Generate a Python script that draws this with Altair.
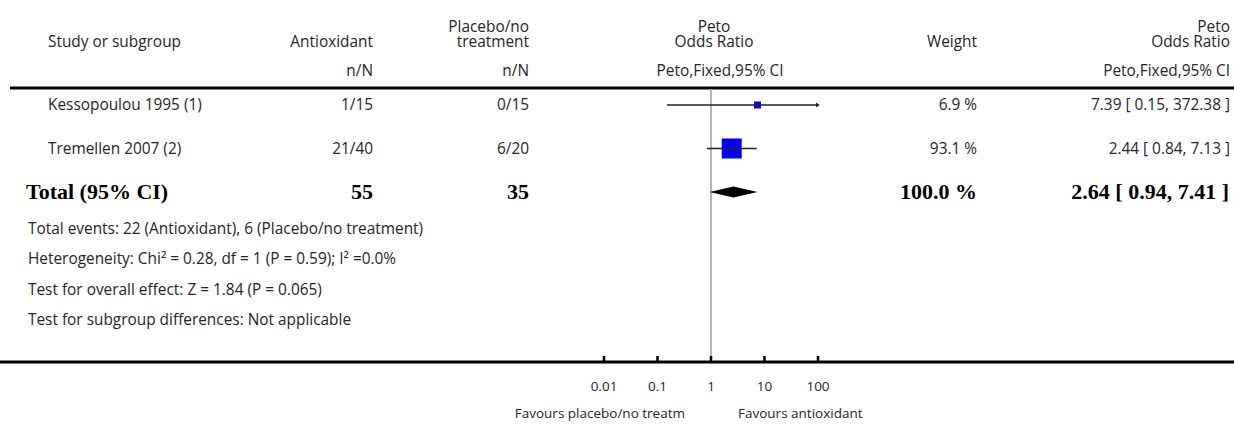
import altair as alt
import pandas as pd

# ---- study data -------------------------------------------------------------
studies = ["Kessopoulou 1995 (1)", "Tremellen 2007 (2)"]
antioxidant_nN = ["1/15", "21/40"]
placebo_nN = ["0/15", "6/20"]
weight_pct = [6.9, 93.1]
peto_or = [7.39, 2.44]
ci_low = [0.15, 0.84]
ci_high = [372.38, 7.13]

total_antioxidant = 55
total_placebo = 35
total_weight = 100.0
total_or = 2.64
total_low = 0.94
total_high = 7.41

axis_ticks = [0.01, 0.1, 1, 10, 100]
axis_labels = ["0.01", "0.1", "1", "10", "100"]

footnotes = [
    "Total events: 22 (Antioxidant), 6 (Placebo/no treatment)",
    "Heterogeneity: Chi\u00b2 = 0.28, df = 1 (P = 0.59); I\u00b2 =0.0%",
    "Test for overall effect: Z = 1.84 (P = 0.065)",
    "Test for subgroup differences: Not applicable",
]

# ---- derived tables ---------------------------------------------------------
X_MAX = 100
rows = pd.DataFrame({
    "row": list(range(len(studies))),
    "study": studies,
    "anti": antioxidant_nN,
    "plac": placebo_nN,
    "weight": weight_pct,
    "or": peto_or,
    "lo": ci_low,
    "hi": ci_high,
})
rows["hi_draw"] = rows["hi"].clip(upper=X_MAX)
rows["weight_txt"] = rows["weight"].map(lambda w: f"{w} %")
rows["ci_txt"] = [f"{o:.2f} [ {l:.2f}, {h:.2f} ]" for o, l, h in zip(peto_or, ci_low, ci_high)]

total_row = len(studies)
total = pd.DataFrame({
    "row": [total_row],
    "label": ["Total (95% CI)"],
    "anti": [str(total_antioxidant)],
    "plac": [str(total_placebo)],
    "weight_txt": [f"{total_weight:.1f} %"],
    "ci_txt": [f"{total_or:.2f} [ {total_low:.2f}, {total_high:.2f} ]"],
})

half_h = 0.125  # diamond half-height in row units
diamond = pd.DataFrame({
    "x": [total_low, total_or, total_high],
    "y": [total_row, total_row - half_h, total_row],
    "y2": [total_row, total_row + half_h, total_row],
})

ticks = pd.DataFrame({"v": axis_ticks, "lab": axis_labels})

# ---- scales -----------------------------------------------------------------
XS = alt.Scale(type="log", domain=[0.01, 100], range=[604, 818])
YS = alt.Scale(domain=[0, total_row], range=[105, 192], zero=False, nice=False)

SANS = "Open Sans"
SERIF = "Liberation Serif"
INK = "#262626"
FS = 15.4


def xq(field):
    return alt.X(f"{field}:Q", scale=XS, axis=None)


def yq(field="row"):
    return alt.Y(f"{field}:Q", scale=YS, axis=None)


def label(text, x, y, align="left", size=FS, font=SANS, weight="normal"):
    return alt.Chart(pd.DataFrame({"t": [text]})).mark_text(
        align=align, baseline="middle", font=font, fontSize=size,
        fontWeight=weight, color=INK,
    ).encode(x=alt.value(x), y=alt.value(y), text="t:N")


def hline(y, x0, x1, width):
    return alt.Chart(pd.DataFrame({"a": [0]})).mark_rule(
        color="black", strokeWidth=width
    ).encode(x=alt.value(x0), x2=alt.value(x1), y=alt.value(y))


# ---- header -----------------------------------------------------------------
header = [
    label("Study or subgroup", 48, 42),
    label("Antioxidant", 373, 42, "right"),
    label("Placebo/no", 529, 27, "right"),
    label("treatment", 529, 42, "right"),
    label("n/N", 373, 71, "right"),
    label("n/N", 529, 71, "right"),
    label("Peto", 714, 27, "center"),
    label("Odds Ratio", 714, 42, "center"),
    label("Peto,Fixed,95% CI", 720, 71, "center"),
    label("Weight", 977, 42, "right"),
    label("Peto", 1230, 27, "right"),
    label("Odds Ratio", 1230, 42, "right"),
    label("Peto,Fixed,95% CI", 1230, 71, "right"),
]

rules = [hline(88, 10, 1234, 3), hline(362, 0, 1234, 3)]

# ---- study rows -------------------------------------------------------------
base = alt.Chart(rows)
txt = dict(baseline="middle", font=SANS, fontSize=FS, color=INK)
study_text = [
    base.mark_text(align="left", **txt).encode(x=alt.value(48), y=yq(), text="study:N"),
    base.mark_text(align="right", **txt).encode(x=alt.value(373), y=yq(), text="anti:N"),
    base.mark_text(align="right", **txt).encode(x=alt.value(529), y=yq(), text="plac:N"),
    base.mark_text(align="right", **txt).encode(x=alt.value(977), y=yq(), text="weight_txt:N"),
    base.mark_text(align="right", **txt).encode(x=alt.value(1230), y=yq(), text="ci_txt:N"),
]

tb = alt.Chart(total)
btxt = dict(baseline="middle", font=SERIF, fontSize=22, fontWeight="bold", color="black")
total_text = [
    tb.mark_text(align="left", **btxt).encode(x=alt.value(26), y=yq(), text="label:N"),
    tb.mark_text(align="right", **btxt).encode(x=alt.value(373), y=yq(), text="anti:N"),
    tb.mark_text(align="right", **btxt).encode(x=alt.value(529), y=yq(), text="plac:N"),
    tb.mark_text(align="right", **btxt).encode(x=alt.value(977), y=yq(), text="weight_txt:N"),
    tb.mark_text(align="right", **btxt).encode(x=alt.value(1229), y=yq(), text="ci_txt:N"),
]

notes = [label(t, 28, 229 + 30.3 * i) for i, t in enumerate(footnotes)]

# ---- forest -----------------------------------------------------------------
ref_line = alt.Chart(pd.DataFrame({"v": [1]})).mark_rule(
    color="#b5b5b5", strokeWidth=2
).encode(x=xq("v"), y=alt.value(89), y2=alt.value(361))

squares = base.mark_square(color="#0000ff", opacity=1).encode(
    x=xq("or"), y=yq(),
    size=alt.Size("weight:Q", scale=alt.Scale(domain=[6.9, 93.1], range=[49, 400]), legend=None),
)
ci_lines = base.mark_rule(color="#222222", strokeWidth=1.5).encode(
    x=xq("lo"), x2="hi_draw:Q", y=yq()
)
centre_ticks = base.mark_tick(color="#222222", thickness=1, size=6, orient="vertical").encode(
    x=xq("or"), y=yq()
)
arrows = base.transform_filter(f"datum.hi > {X_MAX}").mark_point(
    shape="triangle-right", filled=True, size=22, color="#222222", opacity=1
).encode(x=xq("hi_draw"), y=yq())

diamond_mark = alt.Chart(diamond).mark_area(color="black", opacity=1).encode(
    x=xq("x"), y=yq("y"), y2="y2:Q"
)

tick_marks = alt.Chart(ticks).mark_rule(color="black", strokeWidth=2.5).encode(
    x=xq("v"), y=alt.value(356), y2=alt.value(362)
)
tick_labels = alt.Chart(ticks).mark_text(
    align="center", baseline="middle", font=SANS, fontSize=13.5, color=INK
).encode(x=xq("v"), y=alt.value(387), text="lab:N")

favours = [
    label("Favours placebo/no treatm", 685, 414, "right", size=13.5),
    label("Favours antioxidant", 738, 414, "left", size=13.5),
]

chart = alt.layer(
    *rules, ref_line, squares, ci_lines, centre_ticks, arrows, diamond_mark,
    tick_marks, tick_labels, *header, *study_text, *total_text, *notes, *favours,
).properties(
    width=1234, height=428, padding=0, autosize=alt.AutoSizeParams(type="none"),
    background="white",
).configure_view(stroke=None)

chart.save("out.html", embed_options={"renderer": "svg", "actions": False})
